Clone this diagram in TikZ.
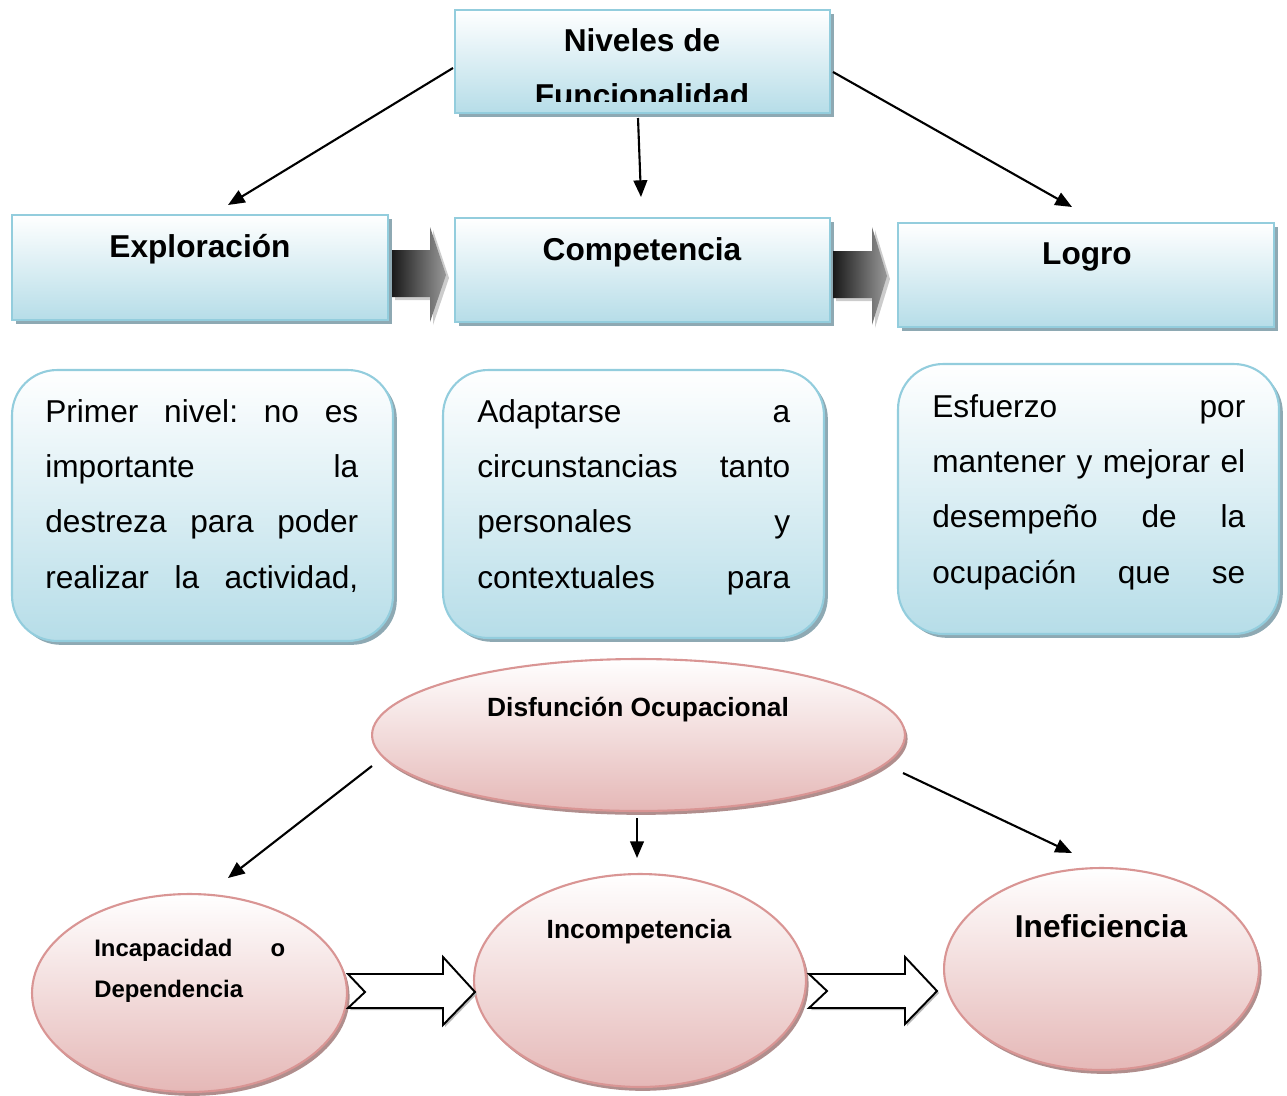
\documentclass[tikz,border=0pt]{standalone}
\usepackage{fontspec}
\setmainfont{Liberation Sans}
\usetikzlibrary{arrows.meta,shapes.geometric,shadows}
\definecolor{boxblue}{HTML}{B6DDE8}
\definecolor{lineblue}{HTML}{93CDDD}
\definecolor{shadeblue}{HTML}{8EA9B3}
\definecolor{boxpink}{HTML}{E5B8B7}
\definecolor{linepink}{HTML}{D99594}
\definecolor{shadepink}{HTML}{B08E8D}
\tikzset{
  bluebox/.style={rectangle, draw=lineblue, line width=1.2pt, top color=white, bottom color=boxblue,
    inner sep=0pt, outer sep=0pt,
    drop shadow={shadow xshift=2.2pt, shadow yshift=-2.2pt, fill=shadeblue, opacity=1}},
  roundbox/.style={bluebox, rounded corners=0.9cm},
  pinkell/.style={ellipse, draw=linepink, line width=1.2pt, top color=white, bottom color=boxpink,
    inner sep=0pt, outer sep=0pt,
    drop shadow={shadow xshift=1.5pt, shadow yshift=-2.2pt, fill=shadepink, opacity=1}},
  conn/.style={line width=1.2pt, -{Triangle[length=9.5pt,width=7.8pt]}},
  title/.style={font=\bfseries\fontsize{18}{22}\selectfont, inner sep=0pt, anchor=base},
  body/.style={font=\fontsize{18}{31.5}\selectfont, inner sep=0pt, anchor=base west, text width=6.26cm},
  grayarrow/.style={left color=black!90, middle color=gray!55, right color=gray!80},
  grayshadow/.style={fill=gray!40},
  hollow/.style={draw=black, line width=1.1pt, fill=white, line join=miter},
  hollowshadow/.style={fill=gray!55},
}
\begin{document}
\begin{tikzpicture}[x=0.02cm, y=-0.02cm]
\path[use as bounding box] (0,0) rectangle (1287,1095);

% ---------- top row ----------
\node[bluebox, minimum width=7.5cm, minimum height=2.06cm] (top) at (642.5,61.5) {};
\node[title] (toptxt1) at (642,52) {Niveles de};
\begin{scope}
  \clip (455,10) rectangle (830,102);
  \node[title] (toptxt2) at (642,107) {Funcionalidad};
\end{scope}

\node[bluebox, minimum width=7.52cm, minimum height=2.1cm] (expl) at (200,267.5) {};
\node[title] (expltxt) at (200,257) {Exploración};
\node[bluebox, minimum width=7.5cm, minimum height=2.08cm] (comp) at (642.5,270) {};
\node[title] (comptxt) at (642,260) {Competencia};
\node[bluebox, minimum width=7.52cm, minimum height=2.08cm] (logro) at (1086,275) {};
\node[title] (logrotxt) at (1087,264) {Logro};

% gray block arrows
\fill[grayshadow] (395,253) -- (433,253) -- (433,230) -- (449,278) -- (433,325) -- (433,300) -- (395,300) -- cycle;
\shade[grayarrow] (392,250) -- (430,250) -- (430,227) -- (446,275) -- (430,322) -- (430,297) -- (392,297) -- cycle;
\fill[grayshadow] (836,254) -- (875,254) -- (875,230) -- (890,279) -- (875,328) -- (875,301) -- (836,301) -- cycle;
\shade[grayarrow] (833,251) -- (872,251) -- (872,227) -- (887,276) -- (872,325) -- (872,298) -- (833,298) -- cycle;

% connectors top
\coordinate (t1s) at (453,68);  \coordinate (t1e) at (228,205);
\coordinate (t2s) at (638,118); \coordinate (t2e) at (641,197);
\coordinate (t3s) at (833,72);  \coordinate (t3e) at (1072,207);
\draw[conn] (t1s) -- (t1e);
\draw[conn] (t2s) -- (t2e);
\draw[conn] (t3s) -- (t3e);

% ---------- description boxes ----------
\node[roundbox, minimum width=7.62cm, minimum height=5.42cm] (d1) at (202.5,505.5) {};
\node[body] (d1txt) at (45,422) {Primer\hfill nivel:\hfill no\hfill es\\
importante\hfill la\\
destreza\hfill para\hfill poder\\
realizar\hfill la\hfill actividad,};

\node[roundbox, minimum width=7.62cm, minimum height=5.36cm] (d2) at (633.5,504) {};
\node[body] (d2txt) at (477,422) {Adaptarse\hfill a\\
circunstancias\hfill tanto\\
personales\hfill y\\
contextuales\hfill para};

\node[roundbox, minimum width=7.62cm, minimum height=5.4cm] (d3) at (1088.5,499) {};
\node[body] (d3txt) at (932,417) {Esfuerzo\hfill por\\
mantener\hfill y\hfill mejorar\hfill el\\
desempeño\hfill de\hfill la\\
ocupación\hfill que\hfill se};

% ---------- lower part ----------
\node[pinkell, minimum width=10.66cm, minimum height=3.04cm] (dis) at (638.5,735) {};
\node[font=\bfseries\fontsize{15}{18}\selectfont, inner sep=0pt, anchor=base] (distxt) at (638,716) {Disfunción Ocupacional};

\node[pinkell, minimum width=6.3cm, minimum height=3.96cm] (inc) at (189.5,993) {};
\node[font=\bfseries\fontsize{13.6}{23.5}\selectfont, inner sep=0pt, anchor=base west, text width=3.82cm] (inctxt) at (94,956) {Incapacidad\hfill o\\Dependencia};

\node[pinkell, minimum width=6.64cm, minimum height=4.26cm] (incomp) at (640,980.5) {};
\node[font=\bfseries\fontsize{15}{18}\selectfont, inner sep=0pt, anchor=base] (incomptxt) at (639,938) {Incompetencia};

\node[pinkell, minimum width=6.3cm, minimum height=4.04cm] (inef) at (1101.5,969) {};
\node[title] (ineftxt) at (1101,937) {Ineficiencia};

% connectors bottom
\coordinate (b1s) at (372,766); \coordinate (b1e) at (228,878);
\coordinate (b2s) at (637,818); \coordinate (b2e) at (637,858);
\coordinate (b3s) at (903,773); \coordinate (b3e) at (1072,853);
\draw[conn] (b1s) -- (b1e);
\draw[conn] (b2s) -- (b2e);
\draw[conn] (b3s) -- (b3e);

% hollow arrows
\fill[hollowshadow] (350,976) -- (445,976) -- (445,959) -- (477,994) -- (445,1027) -- (445,1010) -- (350,1010) -- (367,994) -- cycle;
\draw[hollow] (348,974) -- (443,974) -- (443,957) -- (475,992) -- (443,1025) -- (443,1008) -- (348,1008) -- (365,992) -- cycle;
\fill[hollowshadow] (811,976) -- (907,976) -- (907,959) -- (939,993) -- (907,1026) -- (907,1010) -- (811,1010) -- (829,993) -- cycle;
\draw[hollow] (809,974) -- (905,974) -- (905,957) -- (937,991) -- (905,1024) -- (905,1008) -- (809,1008) -- (827,991) -- cycle;
\end{tikzpicture}
\end{document}
